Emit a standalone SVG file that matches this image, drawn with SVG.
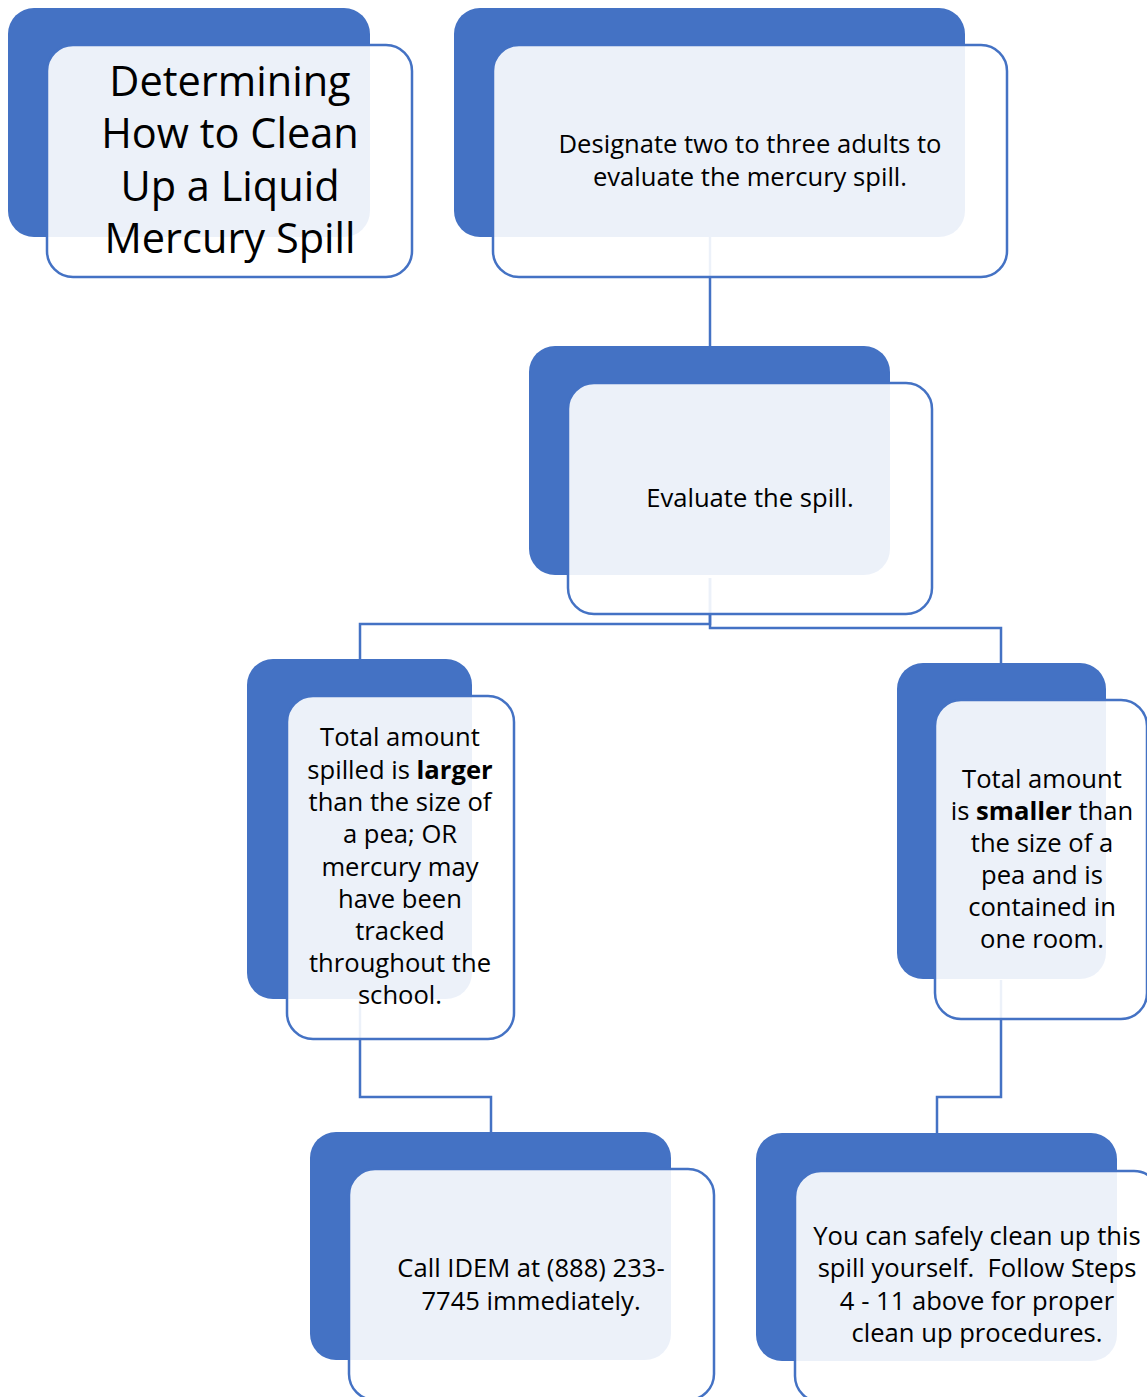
<svg xmlns="http://www.w3.org/2000/svg" width="1147" height="1397" viewBox="0 0 1147 1397">
<style>
.back{fill:#4472C4;}
.front{fill:#FFFFFF;fill-opacity:0.9;stroke:#4472C4;stroke-width:2.5;}
.conn{fill:none;stroke:#4472C4;stroke-width:2.5;}
.t{font-family:"Open Sans","Liberation Sans",Arial,sans-serif;font-size:25.6px;fill:#000;text-anchor:middle;}
.title{font-family:"Open Sans","Liberation Sans",Arial,sans-serif;font-size:41.5px;fill:#000;text-anchor:middle;}
.b{font-weight:bold;}
</style>
<rect width="1147" height="1397" fill="#FFFFFF"/>
<g id="connectors">
<path class="conn" d="M710,237 V346"/>
<path class="conn" d="M710,578 V624 H360 V660"/>
<path class="conn" d="M710,578 V628 H1001 V663"/>
<path class="conn" d="M360,1000 V1097 H491 V1132"/>
<path class="conn" d="M1001,980 V1097 H937 V1133"/>
</g>
<g id="node-title">
<rect class="back" x="8" y="8" width="362" height="229" rx="26"/>
<rect class="front" x="47" y="45" width="365" height="232" rx="26"/>
<text class="title"><tspan x="230" y="96">Determining</tspan><tspan x="230" y="148">How to Clean</tspan><tspan x="230" y="201">Up a Liquid</tspan><tspan x="230" y="253">Mercury Spill</tspan></text>
</g>
<g id="node-designate">
<rect class="back" x="454" y="8" width="511" height="229" rx="26"/>
<rect class="front" x="493" y="45" width="514" height="232" rx="26"/>
<text class="t"><tspan x="750" y="153">Designate two to three adults to</tspan><tspan x="750" y="186">evaluate the mercury spill.</tspan></text>
</g>
<g id="node-evaluate">
<rect class="back" x="529" y="346" width="361" height="229" rx="26"/>
<rect class="front" x="568" y="383" width="364" height="231" rx="26"/>
<text class="t" x="750" y="507">Evaluate the spill.</text>
</g>
<g id="node-larger">
<rect class="back" x="247" y="659" width="225" height="340" rx="26"/>
<rect class="front" x="287" y="696" width="227" height="343" rx="26"/>
<text class="t"><tspan x="400" y="746">Total amount</tspan><tspan x="400" y="779">spilled is <tspan class="b">larger</tspan></tspan><tspan x="400" y="811">than the size of</tspan><tspan x="400" y="843">a pea; OR</tspan><tspan x="400" y="876">mercury may</tspan><tspan x="400" y="908">have been</tspan><tspan x="400" y="940">tracked</tspan><tspan x="400" y="972">throughout the</tspan><tspan x="400" y="1004">school.</tspan></text>
</g>
<g id="node-smaller">
<rect class="back" x="897" y="663" width="209" height="316" rx="26"/>
<rect class="front" x="935" y="700" width="212" height="319" rx="26"/>
<text class="t"><tspan x="1042" y="788">Total amount</tspan><tspan x="1042" y="820">is <tspan class="b">smaller</tspan> than</tspan><tspan x="1042" y="852">the size of a</tspan><tspan x="1042" y="884">pea and is</tspan><tspan x="1042" y="916">contained in</tspan><tspan x="1042" y="948">one room.</tspan></text>
</g>
<g id="node-call">
<rect class="back" x="310" y="1132" width="361" height="228" rx="26"/>
<rect class="front" x="349" y="1169" width="365" height="231" rx="26"/>
<text class="t"><tspan x="531" y="1277">Call IDEM at (888) 233-</tspan><tspan x="531" y="1310">7745 immediately.</tspan></text>
</g>
<g id="node-self">
<rect class="back" x="756" y="1133" width="361" height="228" rx="26"/>
<rect class="front" x="795" y="1171" width="365" height="231" rx="26"/>
<text class="t"><tspan x="977" y="1245">You can safely clean up this</tspan><tspan x="977" y="1277">spill yourself. &#160;Follow Steps</tspan><tspan x="977" y="1310">4 - 11 above for proper</tspan><tspan x="977" y="1342">clean up procedures.</tspan></text>
</g>
</svg>
